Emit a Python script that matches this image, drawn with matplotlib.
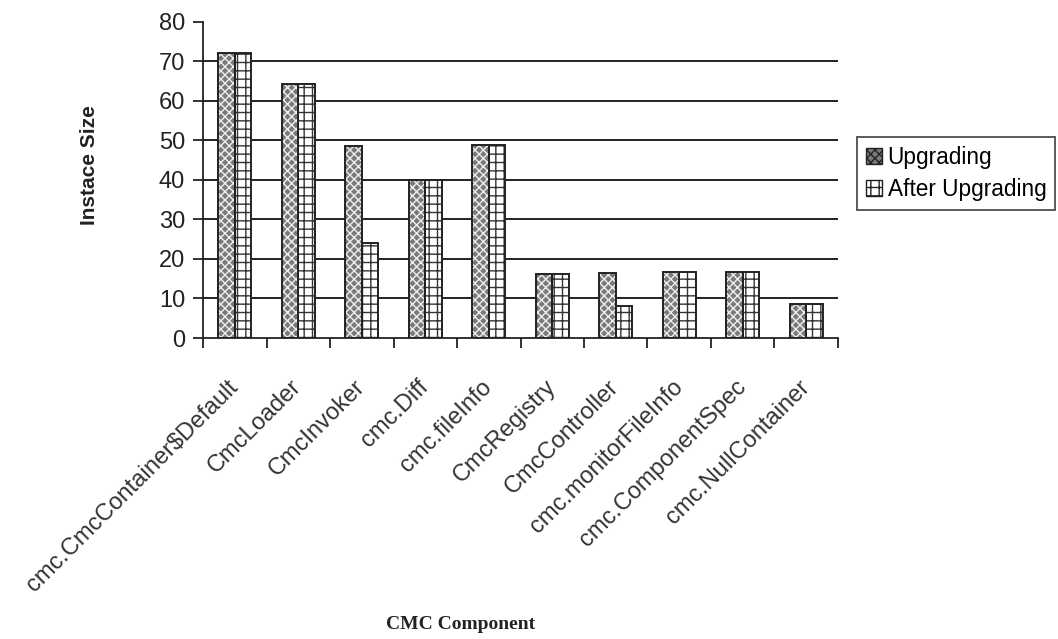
import numpy as np
import matplotlib
matplotlib.use("Agg")
import matplotlib.pyplot as plt
from matplotlib.patches import Patch

components = ["cmc.CmcContainer$Default", "CmcLoader", "CmcInvoker", "cmc.Diff",
              "cmc.fileInfo", "CmcRegistry", "CmcController", "cmc.monitorFileInfo",
              "cmc.ComponentSpec", "cmc.NullContainer"]
upgrading = [72, 64.2, 48.5, 40, 48.7, 16.3, 16.5, 16.6, 16.8, 8.6]
after_upgrading = [72, 64.2, 24, 40, 48.7, 16.3, 8.2, 16.6, 16.8, 8.6]
yticks = [0, 10, 20, 30, 40, 50, 60, 70, 80]

plt.rcParams["font.family"] = ["Liberation Sans", "DejaVu Sans"]
plt.rcParams["hatch.linewidth"] = 1.0

fig = plt.figure(figsize=(10.58, 6.39), dpi=100)
ax = fig.add_axes([0.192, 0.471, 0.600, 0.495])

x = np.arange(len(components))
w = 0.26
# patterned fills first, then black outlines on top
ax.bar(x - w / 2, upgrading, w, color="#7a7a7a", edgecolor="#eeeeee",
       hatch="xxxx", linewidth=0, zorder=3)
ax.bar(x - w / 2, upgrading, w, fill=False, edgecolor="#222222", linewidth=1.4, zorder=4)
ax.bar(x + w / 2, after_upgrading, w, color="white", edgecolor="#333333",
       hatch="++", linewidth=0, zorder=3)
ax.bar(x + w / 2, after_upgrading, w, fill=False, edgecolor="#222222", linewidth=1.4, zorder=4)

# horizontal gridlines (none at the top value)
ax.hlines(yticks[1:-1], -0.5, len(components) - 0.5, color="#222222", linewidth=1.4, zorder=1)

ax.set_xlim(-0.5, len(components) - 0.5)
ax.set_ylim(0, 80)
ax.set_yticks(yticks)
ax.tick_params(axis="y", labelsize=17, length=7, width=1.3, direction="out", pad=6, colors="#222222")

ax.set_xticks(x)
ax.set_xticklabels(components, rotation=45, ha="right", va="center", rotation_mode="anchor",
                   fontsize=17, color="#333333")
ax.tick_params(axis="x", which="major", length=0, pad=33)
ax.set_xticks(np.arange(len(components) + 1) - 0.5, minor=True)
ax.tick_params(axis="x", which="minor", length=7, width=1.3, direction="out", colors="#222222")

for side in ["top", "right"]:
    ax.spines[side].set_visible(False)
for side in ["left", "bottom"]:
    ax.spines[side].set_linewidth(1.3)
    ax.spines[side].set_color("#222222")

fig.text(0.085, 0.742, "Instace Size", rotation=90, ha="center", va="center",
         fontsize=15, fontweight="bold", family=["Liberation Sans Narrow", "Liberation Sans"],
         color="#222222")
fig.text(0.435, 0.022, "CMC Component", ha="center", va="center", fontsize=14,
         fontweight="bold", family=["Liberation Serif", "DejaVu Serif"], color="#222222")

handles = [Patch(facecolor="#7a7a7a", edgecolor="#222222", hatch="xxxx", linewidth=1.0),
           Patch(facecolor="white", edgecolor="#222222", hatch="++", linewidth=1.0)]
leg = fig.legend(handles, ["Upgrading", "After Upgrading"], loc="center left",
                 bbox_to_anchor=(0.810, 0.729), fontsize=16.3, frameon=True, fancybox=False,
                 edgecolor="#222222", handlelength=0.7, handleheight=0.7, handletextpad=0.25,
                 borderpad=0.4, labelspacing=0.4, borderaxespad=0)
leg.get_frame().set_linewidth(1.3)

fig.savefig("out.png", dpi=100)
